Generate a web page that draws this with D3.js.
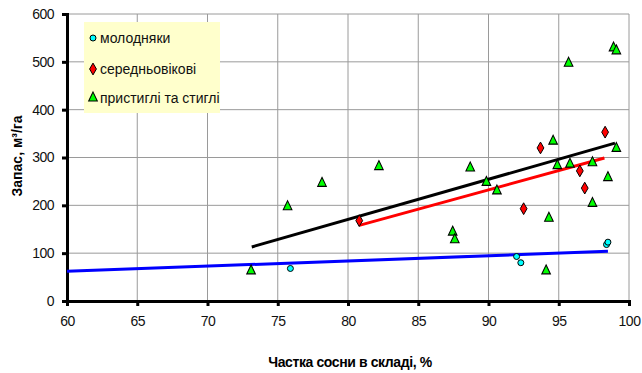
<!DOCTYPE html>
<html>
<head>
<meta charset="utf-8">
<script src="https://cdn.jsdelivr.net/npm/d3@7"></script>
<style>
body { margin: 0; background: #fff; }
text { font-family: "Liberation Sans Narrow", "Arial Narrow", Arial, sans-serif; }
</style>
</head>
<body>
<div id="chart"></div>
<script>
// series: [share of pine %, stock m3/ha]
var young = [[75.9, 68], [92.0, 93], [92.3, 80], [98.4, 118], [98.5, 123]]
var middle = [[80.8, 168], [92.5, 193], [93.7, 320], [96.5, 272], [96.85, 236], [98.3, 353]]
var mature = [[73.1, 63], [75.7, 197], [78.15, 246], [82.2, 281], [87.45, 144], [87.6, 128],
	[88.7, 278], [89.85, 248], [90.6, 230], [94.1, 63], [94.3, 173], [94.6, 334],
	[94.9, 283], [95.7, 497], [95.8, 286], [97.4, 289], [97.4, 204], [98.5, 258],
	[98.9, 529], [99.1, 523], [99.1, 319]]

// trend lines (start / end)
var trendYoung = [[60, 62], [98.5, 104]]
var trendMiddle = [[80.8, 158], [98.25, 299]]
var trendMature = [[73.15, 113], [99.0, 330]]

var xTicks = [60, 65, 70, 75, 80, 85, 90, 95, 100]
var yTicks = [0, 100, 200, 300, 400, 500, 600]
var legendLabels = ["молодняки", "середньовікові", "пристиглі та стиглі"]

var width = 642, height = 373
var margin = {left: 67, right: 13, top: 14, bottom: 72}

var x = d3.scaleLinear().domain([60, 100]).range([margin.left, width - margin.right])
var y = d3.scaleLinear().domain([0, 600]).range([height - margin.bottom, margin.top])

var svg = d3.select("#chart").append("svg")
	.attr("width", width)
	.attr("height", height)

// grid
svg.append("g").selectAll("line.vg")
	.data(xTicks.slice(1))
	.enter().append("line")
	.attr("x1", function(d) { return x(d) }).attr("x2", function(d) { return x(d) })
	.attr("y1", y(0)).attr("y2", y(600))
	.attr("stroke", "#9a9a9a").attr("stroke-width", 1)

svg.append("g").selectAll("line.hg")
	.data(yTicks.slice(1))
	.enter().append("line")
	.attr("x1", x(60)).attr("x2", x(100))
	.attr("y1", function(d) { return y(d) }).attr("y2", function(d) { return y(d) })
	.attr("stroke", "#9a9a9a").attr("stroke-width", 1)

// axes
var xAxis = svg.append("g")
	.attr("transform", "translate(0," + y(0) + ")")
	.call(d3.axisBottom(x).tickValues(xTicks).tickSize(5).tickPadding(10))
var yAxis = svg.append("g")
	.attr("transform", "translate(" + x(60) + ",0)")
	.call(d3.axisLeft(y).tickValues(yTicks).tickSize(5).tickPadding(8))

;[xAxis, yAxis].forEach(function(a) {
	a.select(".domain").attr("stroke", "#000").attr("stroke-width", 3)
	a.selectAll(".tick line").attr("stroke", "#000").attr("stroke-width", 3)
	a.selectAll(".tick text")
		.attr("fill", "#111")
		.style("font-family", "Arial, 'Liberation Sans', sans-serif")
		.style("font-size", "14px")
		.style("letter-spacing", "-0.5px")
})

// trend lines
var line = d3.line().x(function(d) { return x(d[0]) }).y(function(d) { return y(d[1]) })
svg.append("path").datum(trendYoung).attr("d", line)
	.attr("stroke", "#0000ff").attr("stroke-width", 3).attr("fill", "none")
svg.append("path").datum(trendMature).attr("d", line)
	.attr("stroke", "#000").attr("stroke-width", 3).attr("fill", "none")
svg.append("path").datum(trendMiddle).attr("d", line)
	.attr("stroke", "#ff0000").attr("stroke-width", 3).attr("fill", "none")

// markers
var tri = d3.symbol().type(d3.symbolTriangle).size(32)
var dia = d3.symbol().type(d3.symbolDiamond).size(40)

svg.append("g").selectAll("path")
	.data(mature)
	.enter().append("path")
	.attr("d", tri)
	.attr("transform", function(d) { return "translate(" + x(d[0]) + "," + y(d[1]) + ") scale(1,1.2)" })
	.attr("fill", "#00ff00").attr("stroke", "#000").attr("stroke-width", 1)

svg.append("g").selectAll("path")
	.data(middle)
	.enter().append("path")
	.attr("d", dia)
	.attr("transform", function(d) { return "translate(" + x(d[0]) + "," + y(d[1]) + ")" })
	.attr("fill", "#ff0000").attr("stroke", "#000").attr("stroke-width", 1)

svg.append("g").selectAll("circle")
	.data(young)
	.enter().append("circle")
	.attr("cx", function(d) { return x(d[0]) })
	.attr("cy", function(d) { return y(d[1]) })
	.attr("r", 3)
	.attr("fill", "#00ffff").attr("stroke", "#000").attr("stroke-width", 1)

// legend
var legend = svg.append("g")
legend.append("rect")
	.attr("x", 84).attr("y", 22).attr("width", 136).attr("height", 91)
	.attr("fill", "#ffffcc")

var rows = legend.selectAll("g")
	.data(legendLabels)
	.enter().append("g")
	.attr("transform", function(d, i) { return "translate(93," + [38, 69, 98][i] + ")" })

rows.each(function(d, i) {
	var g = d3.select(this)
	if (i == 0) g.append("circle").attr("r", 3).attr("fill", "#00ffff").attr("stroke", "#000")
	else if (i == 1) g.append("path").attr("d", dia).attr("fill", "#ff0000").attr("stroke", "#000")
	else g.append("path").attr("d", tri).attr("transform", "scale(1,1.2)").attr("fill", "#00ff00").attr("stroke", "#000")
})
rows.append("text")
	.attr("x", 7).attr("y", 5)
	.style("font-size", "14px")
	.attr("fill", "#111")
	.text(function(d) { return d })

// axis titles
svg.append("text")
	.attr("x", 350).attr("y", 367)
	.attr("text-anchor", "middle")
	.style("font-size", "14px").style("font-weight", "bold")
	.style("letter-spacing", "-0.4px")
	.text("Частка сосни в складі, %")

svg.append("text")
	.attr("transform", "translate(22,156) rotate(-90)")
	.attr("text-anchor", "middle")
	.style("font-size", "14px").style("font-weight", "bold")
	.text("Запас, м³/га")
</script>
</body>
</html>
